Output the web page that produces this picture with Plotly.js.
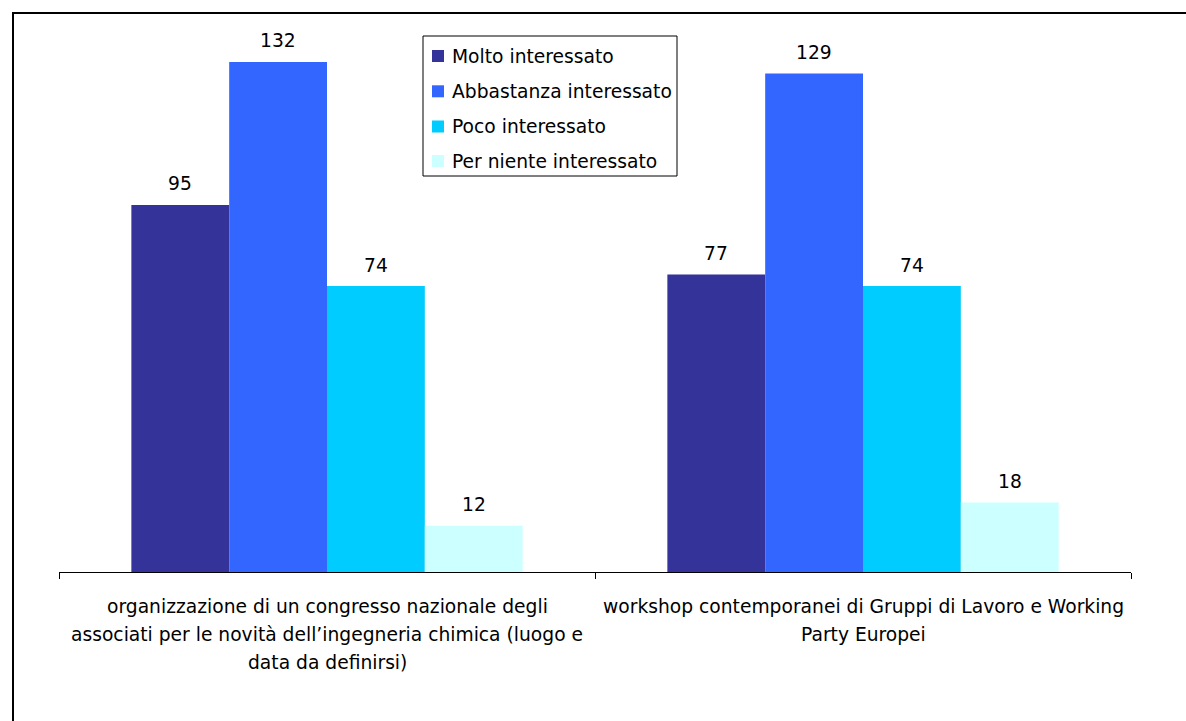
<!DOCTYPE html>
<html>
<head>
<meta charset="utf-8">
<script src="https://cdn.plot.ly/plotly-3.0.1.min.js"></script>
<style>
html,body{margin:0;padding:0;background:#fff;}
#chart{width:1186px;height:721px;}
</style>
</head>
<body>
<div id="chart"></div>
<script>
const categories = ["cat1", "cat2"];
const categoryLines = [
  ["organizzazione di un congresso nazionale degli", "associati per le novità dell’ingegneria chimica (luogo e", "data da definirsi)"],
  ["workshop contemporanei di Gruppi di Lavoro e Working", "Party Europei"]
];
const seriesNames = ["Molto interessato", "Abbastanza interessato", "Poco interessato", "Per niente interessato"];
const molto = [95, 77];
const abbastanza = [132, 129];
const poco = [74, 74];
const perNiente = [12, 18];
const colors = ["#333399", "#3366FF", "#00CCFF", "#CCFFFF"];

const FONT = "DejaVu Sans, Verdana, sans-serif";
const FS = 18.7;
const allSeries = [molto, abbastanza, poco, perNiente];

// plot area geometry (pixels) for paper conversions
const M = {l: 59, r: 55, t: 31, b: 149};
const W = 1186, H = 721;
const PW = W - M.l - M.r, PH = H - M.t - M.b;
const px = v => (v - M.l) / PW;
const py = v => (H - M.b - v) / PH;

const BARGAP = 0.27;
const nS = allSeries.length;
const barW = (1 - BARGAP) / nS;

const traces = allSeries.map((vals, i) => ({
  type: "bar",
  name: seriesNames[i],
  x: categories,
  y: vals,
  marker: {color: colors[i], line: {width: 0}},
  showlegend: false,
  hoverinfo: "none"
}));

const annotations = [];
// value labels
allSeries.forEach((vals, si) => {
  vals.forEach((v, ci) => {
    annotations.push({
      x: ci - (1 - BARGAP) / 2 + barW * (si + 0.5), y: v, xref: "x", yref: "y",
      text: String(v), showarrow: false, xanchor: "center", yanchor: "middle",
      yshift: 21, font: {family: FONT, size: FS, color: "#000"}
    });
  });
});
// category labels
categoryLines.forEach((lines, ci) => {
  lines.forEach((ln, li) => {
    annotations.push({
      x: ci, y: 0, xref: "x", yref: "y",
      text: ln, showarrow: false,
      xanchor: "center", yanchor: "middle",
      yshift: -(34 + 28 * li),
      font: {family: FONT, size: FS, color: "#000"}
    });
  });
});

const shapes = [];
// legend box
shapes.push({type: "rect", xref: "paper", yref: "paper",
  x0: px(423), x1: px(677), y0: py(36), y1: py(176),
  line: {color: "#000", width: 1}, fillcolor: "#fff", layer: "above"});
const legY = [56, 91.3, 126.5, 161];
seriesNames.forEach((n, i) => {
  shapes.push({type: "rect", xref: "paper", yref: "paper",
    x0: px(432), x1: px(444), y0: py(legY[i] - 6), y1: py(legY[i] + 6),
    line: {width: 0}, fillcolor: colors[i], layer: "above"});
  annotations.push({xref: "paper", yref: "paper", x: px(450), y: py(legY[i]),
    xanchor: "left", yanchor: "middle", text: n, showarrow: false,
    font: {family: FONT, size: FS, color: "#000"}});
});
// outer frame
shapes.push({type: "rect", xref: "paper", yref: "paper",
  x0: px(13), x1: px(1400), y0: py(13), y1: py(900),
  line: {color: "#000", width: 2}, fillcolor: "rgba(0,0,0,0)", layer: "above"});

const layout = {
  width: W, height: H,
  margin: M,
  paper_bgcolor: "#fff", plot_bgcolor: "#fff",
  barmode: "group",
  bargap: BARGAP,
  bargroupgap: 0,
  showlegend: false,
  xaxis: {
    type: "category", range: [-0.5, 1.5],
    showline: true, linecolor: "#000", linewidth: 1,
    ticks: "outside", tickson: "boundaries", ticklen: 6, tickcolor: "#000",
    showticklabels: false, showgrid: false, zeroline: false, fixedrange: true
  },
  yaxis: {
    range: [0, 140], visible: false, showgrid: false, zeroline: false, fixedrange: true
  },
  annotations: annotations,
  shapes: shapes
};

Plotly.newPlot("chart", traces, layout, {displayModeBar: false, staticPlot: true});
</script>
</body>
</html>
